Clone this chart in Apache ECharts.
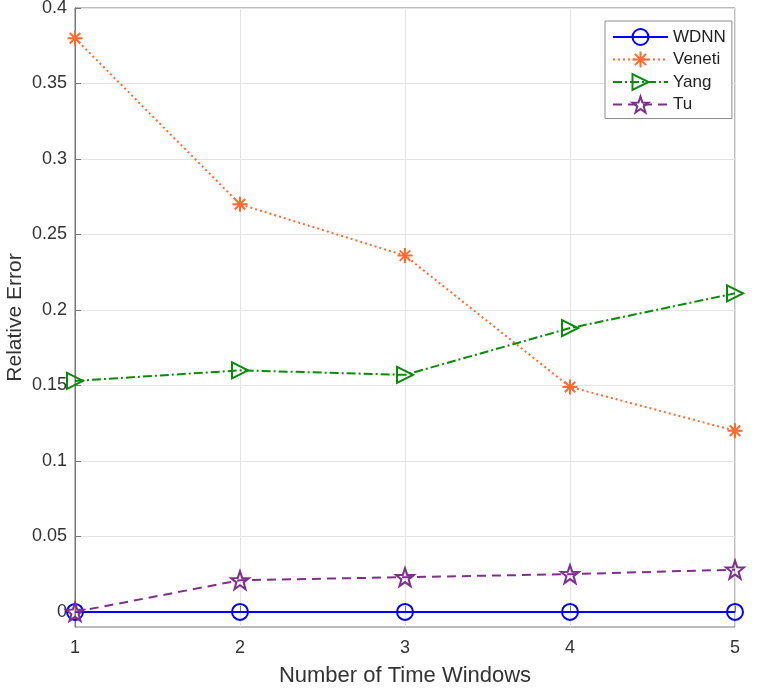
<!DOCTYPE html>
<html>
<head>
<meta charset="utf-8">
<script src="https://cdn.jsdelivr.net/npm/echarts@6/dist/echarts.min.js"></script>
<style>
  html, body { margin: 0; padding: 0; background: #fff; }
  #main { width: 761px; height: 690px; }
</style>
</head>
<body>
<div id="main"></div>
<script>
// 数据
var windows = [1, 2, 3, 4, 5];
var wdnn = [0, 0, 0, 0, 0];
var veneti = [0.38, 0.27, 0.236, 0.149, 0.12];
var yang = [0.153, 0.16, 0.157, 0.188, 0.211];
var tu = [0, 0.021, 0.023, 0.025, 0.028];
var yTicks = [0, 0.05, 0.1, 0.15, 0.2, 0.25, 0.3, 0.35, 0.4];

function pairs(ys) {
  return windows.map(function (x, i) { return [x, ys[i]]; });
}

var asterisk = "path://M0,-10L0,10M-10,0L10,0M-7,-7L7,7M-7,7L7,-7";
var star = "path://M0,-10L2.35,-3.24L9.51,-3.09L3.8,1.24L5.88,8.09L0,4L-5.88,8.09L-3.8,1.24L-9.51,-3.09L-2.35,-3.24Z";

(function () {
  var myChart = echarts.init(document.getElementById("main"));
  var font = "Helvetica, Arial, 'Liberation Sans', sans-serif";
  var axisColor = "#767676";

  var option = {
    animation: false,
    textStyle: { fontFamily: font },
    grid: {
      left: 75, right: 26, top: 8, bottom: 63,
      outerBoundsMode: "none",
      containLabel: false,
      show: true, borderColor: axisColor, borderWidth: 1
    },
    legend: {
      orient: "vertical",
      left: 605, top: 21,
      padding: [7, 6, 5, 7],
      itemWidth: 55, itemHeight: 20, itemGap: 4.5,
      backgroundColor: "#fff",
      borderColor: "#8c8c8c", borderWidth: 1,
      textStyle: { fontSize: 17, color: "#222", fontFamily: font },
      data: ["WDNN", "Veneti", "Yang", "Tu"]
    },
    xAxis: {
      type: "value",
      min: 1, max: 5, interval: 1,
      name: "Number of Time Windows",
      nameLocation: "middle",
      nameGap: 38,
      nameMoveOverlap: false,
      nameTextStyle: { fontSize: 22, color: "#333", fontFamily: font },
      axisLine: { lineStyle: { color: axisColor } },
      axisTick: { inside: true, length: 6, lineStyle: { color: axisColor } },
      axisLabel: { fontSize: 18, color: "#333", margin: 12 },
      splitLine: { show: true, lineStyle: { color: "#e3e3e3" } }
    },
    yAxis: {
      type: "value",
      min: -0.01, max: 0.4,
      name: "Relative Error",
      nameLocation: "middle",
      nameGap: 49,
      nameMoveOverlap: false,
      nameTextStyle: { fontSize: 21, color: "#333", fontFamily: font },
      axisLine: { show: true, lineStyle: { color: axisColor } },
      axisTick: { show: true, inside: true, length: 6, customValues: yTicks, lineStyle: { color: axisColor } },
      axisLabel: { fontSize: 18, color: "#333", margin: 8, customValues: yTicks },
      splitLine: { show: true, lineStyle: { color: "#e3e3e3" } }
    },
    series: [
      {
        name: "WDNN", type: "line", data: pairs(wdnn),
        symbol: "circle", symbolSize: 16, z: 2,
        lineStyle: { color: "#0000ff", width: 2, type: "solid" },
        itemStyle: { color: "rgba(255,255,255,0)", borderColor: "#0000ff", borderWidth: 2 }
      },
      {
        name: "Veneti", type: "line", data: pairs(veneti),
        symbol: asterisk, symbolSize: 15, z: 3,
        lineStyle: { color: "#ff6a2e", width: 2, type: [2, 3] },
        itemStyle: { color: "#ff6a2e", borderColor: "#ff6a2e", borderWidth: 2 }
      },
      {
        name: "Yang", type: "line", data: pairs(yang),
        symbol: "triangle", symbolRotate: -90, symbolSize: 16, z: 4,
        lineStyle: { color: "#0a8a0a", width: 2, type: [9, 3, 2, 3] },
        itemStyle: { color: "rgba(255,255,255,0)", borderColor: "#0a8a0a", borderWidth: 2 }
      },
      {
        name: "Tu", type: "line", data: pairs(tu),
        symbol: star, symbolSize: 18, z: 5,
        lineStyle: { color: "#7e2f8e", width: 2, type: [9, 6] },
        itemStyle: { color: "rgba(255,255,255,0)", borderColor: "#7e2f8e", borderWidth: 2 }
      }
    ]
  };

  myChart.setOption(option);
  window.addEventListener("resize", function () {
    myChart.resize();
  });
})();
</script>
</body>
</html>
